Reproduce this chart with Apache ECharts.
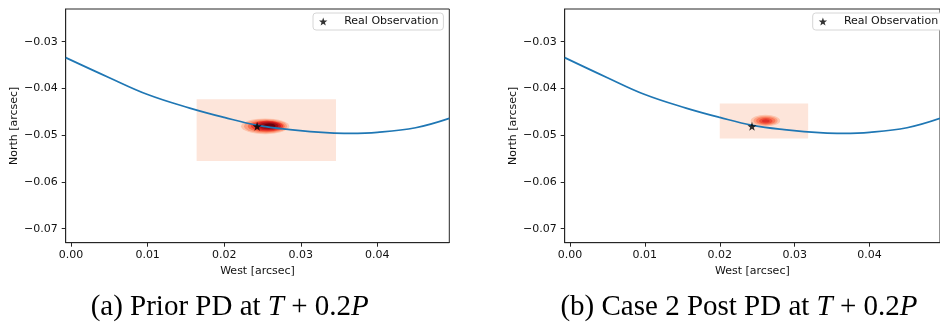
<!DOCTYPE html>
<html>
<head>
<meta charset="utf-8">
<script src="https://cdn.jsdelivr.net/npm/echarts@6/dist/echarts.min.js"></script>
<style>
  html, body { margin: 0; padding: 0; background: #fff; }
  #chart { width: 940px; height: 332px; }
</style>
</head>
<body>
<div id="chart"></div>
<script>
// 轨道曲线 (West / North, arcsec)
const westArc = [-0.0007, 0.005, 0.010, 0.0155, 0.020, 0.0244, 0.0286, 0.0338, 0.0364, 0.040, 0.045, 0.0494];
const northArc = [-0.0334, -0.0377, -0.0413, -0.0442, -0.0462, -0.0479, -0.0488, -0.0495, -0.0496, -0.0494, -0.0484, -0.0464];

// 真实观测点
const obsWest = 0.0243;
const obsNorth = -0.0481;

// 刻度
const xTicks = [0, 0.01, 0.02, 0.03, 0.04];
const yTicks = [-0.07, -0.06, -0.05, -0.04, -0.03];

// 概率密度外框 [west0, north0, west1, north1]
const priorBox = [0.0164, -0.0555, 0.0346, -0.0423];
const postBox = [0.0200, -0.0507, 0.0318, -0.0432];

// 等值线 (外 -> 内): 中心 + 半宽
const priorCenterW = [0.02535, 0.0254, 0.0255, 0.0256, 0.0257, 0.0258, 0.0259];
const priorCenterN = [-0.0481, -0.0481, -0.04808, -0.04805, -0.04802, -0.0480, -0.0480];
const priorHalfW = [0.00315, 0.0028, 0.0024, 0.0021, 0.0017, 0.0013, 0.0008];
const priorHalfN = [0.00168, 0.0015, 0.0013, 0.00112, 0.00094, 0.00074, 0.0005];

const postCenterW = [0.0261, 0.02612, 0.02614, 0.02615, 0.02615];
const postCenterN = [-0.0469, -0.0469, -0.04692, -0.04694, -0.04695];
const postHalfW = [0.00196, 0.0016, 0.0013, 0.0009, 0.0005];
const postHalfN = [0.00125, 0.00102, 0.00082, 0.0006, 0.00036];

// 颜色
const boxColor = '#fde5da';
const priorReds = ['#fcc5ae', '#fc9e80', '#f9714f', '#ec3e2f', '#cc1a1e', '#9e0d14', '#6b000e'];
const postReds = ['#fcc5ae', '#fca082', '#f97a5b', '#f0503a', '#e0312a'];

const STAR = 'path://M0,-10 L2.35,-3.24 9.51,-3.09 3.8,1.24 5.88,8.09 0,4 -5.88,8.09 -3.8,1.24 -9.51,-3.09 -2.35,-3.24 Z';
const FONT = 'DejaVu Sans';
const FS = 11;

const chart = echarts.init(document.getElementById('chart'));

function fmt(v) {
    return v.toFixed(2).replace('-', '\u2212');
}

function makeXAxis(i) {
    return {
        type: 'value', gridIndex: i, min: -0.0007, max: 0.0494,
        name: 'West [arcsec]', nameLocation: 'middle', nameGap: 21,
        nameTextStyle: { fontSize: FS, color: '#111', fontFamily: FONT },
        axisLine: { show: true, lineStyle: { color: '#262626', width: 1 } },
        axisTick: { show: true, length: 4, customValues: xTicks, lineStyle: { color: '#262626' } },
        axisLabel: { customValues: xTicks, formatter: fmt, fontSize: FS, color: '#111', fontFamily: FONT, margin: 7 },
        splitLine: { show: false }
    };
}

function makeYAxis(i) {
    return {
        type: 'value', gridIndex: i, min: -0.073, max: -0.023,
        name: 'North [arcsec]', nameLocation: 'middle', nameGap: 45,
        nameTextStyle: { fontSize: FS, color: '#111', fontFamily: FONT },
        axisLine: { show: true, onZero: false, lineStyle: { color: '#262626', width: 1 } },
        axisTick: { show: true, length: 4, customValues: yTicks, lineStyle: { color: '#262626' } },
        axisLabel: { customValues: yTicks, formatter: fmt, fontSize: FS, color: '#111', fontFamily: FONT, margin: 8 },
        splitLine: { show: false }
    };
}

function boxSeries(i, box) {
    return {
        type: 'custom', xAxisIndex: i, yAxisIndex: i, silent: true, z: 1,
        data: [box],
        renderItem: function (params, api) {
            const p0 = api.coord([api.value(0), api.value(3)]);
            const p1 = api.coord([api.value(2), api.value(1)]);
            return {
                type: 'rect',
                shape: { x: p0[0], y: p0[1], width: p1[0] - p0[0], height: p1[1] - p0[1] },
                style: { fill: boxColor }
            };
        }
    };
}

function contourSeries(i, cw, cn, hw, hn, colors) {
    const data = cw.map((w, k) => [w, cn[k], hw[k], hn[k]]);
    return {
        type: 'custom', xAxisIndex: i, yAxisIndex: i, silent: true, z: 2,
        data: data,
        renderItem: function (params, api) {
            const c = api.coord([api.value(0), api.value(1)]);
            const s = api.size([api.value(2), api.value(3)]);
            return {
                type: 'circle',
                x: c[0], y: c[1],
                scaleX: s[0] / s[1],
                shape: { cx: 0, cy: 0, r: s[1] },
                style: { fill: colors[params.dataIndex] }
            };
        }
    };
}

function arcSeries(i) {
    return {
        type: 'line', xAxisIndex: i, yAxisIndex: i, z: 3,
        data: westArc.map((w, k) => [w, northArc[k]]),
        smooth: 0.4, showSymbol: false, silent: true,
        lineStyle: { color: '#1f77b4', width: 1.7 }
    };
}

function obsSeries(i) {
    return {
        name: 'Real Observation',
        type: 'scatter', xAxisIndex: i, yAxisIndex: i, z: 4,
        data: [[obsWest, obsNorth]],
        symbol: STAR, symbolSize: 9,
        itemStyle: { color: '#000' }
    };
}

function makeLegend(left) {
    return {
        data: ['Real Observation'],
        left: left, top: 13,
        orient: 'vertical',
        icon: STAR,
        itemWidth: 14, itemHeight: 8,
        padding: [3, 5, 3, 6],
        backgroundColor: '#fff',
        borderColor: '#d6d6d6', borderWidth: 1, borderRadius: 3,
        selectedMode: false,
        textStyle: { fontSize: FS, color: '#111', fontFamily: FONT, padding: [0, 0, 0, 9] }
    };
}

const captionRich = {
    r: { fontFamily: 'Liberation Serif', fontSize: 29, color: '#1a1a1a' },
    i: { fontFamily: 'Liberation Serif', fontSize: 29, fontStyle: 'italic', color: '#1a1a1a' }
};

const option = {
    animation: false,
    textStyle: { fontFamily: FONT },
    grid: [
        { left: 65.7, top: 9, width: 383.6, height: 233.7, show: true, borderColor: '#262626', borderWidth: 1, backgroundColor: 'transparent' },
        { left: 564.7, top: 9, width: 383.6, height: 233.7, show: true, borderColor: '#262626', borderWidth: 1, backgroundColor: 'transparent' }
    ],
    xAxis: [makeXAxis(0), makeXAxis(1)],
    yAxis: [makeYAxis(0), makeYAxis(1)],
    legend: [makeLegend(313), makeLegend(812.7)],
    graphic: [
        {
            type: 'text', x: 229.7, y: 322,
            style: {
                text: '{r|(a) Prior PD at }{i|T}{r| + 0.2}{i|P}',
                rich: captionRich, align: 'center', verticalAlign: 'bottom'
            }
        },
        {
            type: 'text', x: 739, y: 322,
            style: {
                text: '{r|(b) Case 2 Post PD at }{i|T}{r| + 0.2}{i|P}',
                rich: captionRich, align: 'center', verticalAlign: 'bottom'
            }
        }
    ],
    series: [
        boxSeries(0, priorBox),
        contourSeries(0, priorCenterW, priorCenterN, priorHalfW, priorHalfN, priorReds),
        arcSeries(0),
        obsSeries(0),
        boxSeries(1, postBox),
        contourSeries(1, postCenterW, postCenterN, postHalfW, postHalfN, postReds),
        arcSeries(1),
        obsSeries(1)
    ]
};

chart.setOption(option);

window.addEventListener('resize', () => {
    chart.resize();
});
</script>
</body>
</html>
